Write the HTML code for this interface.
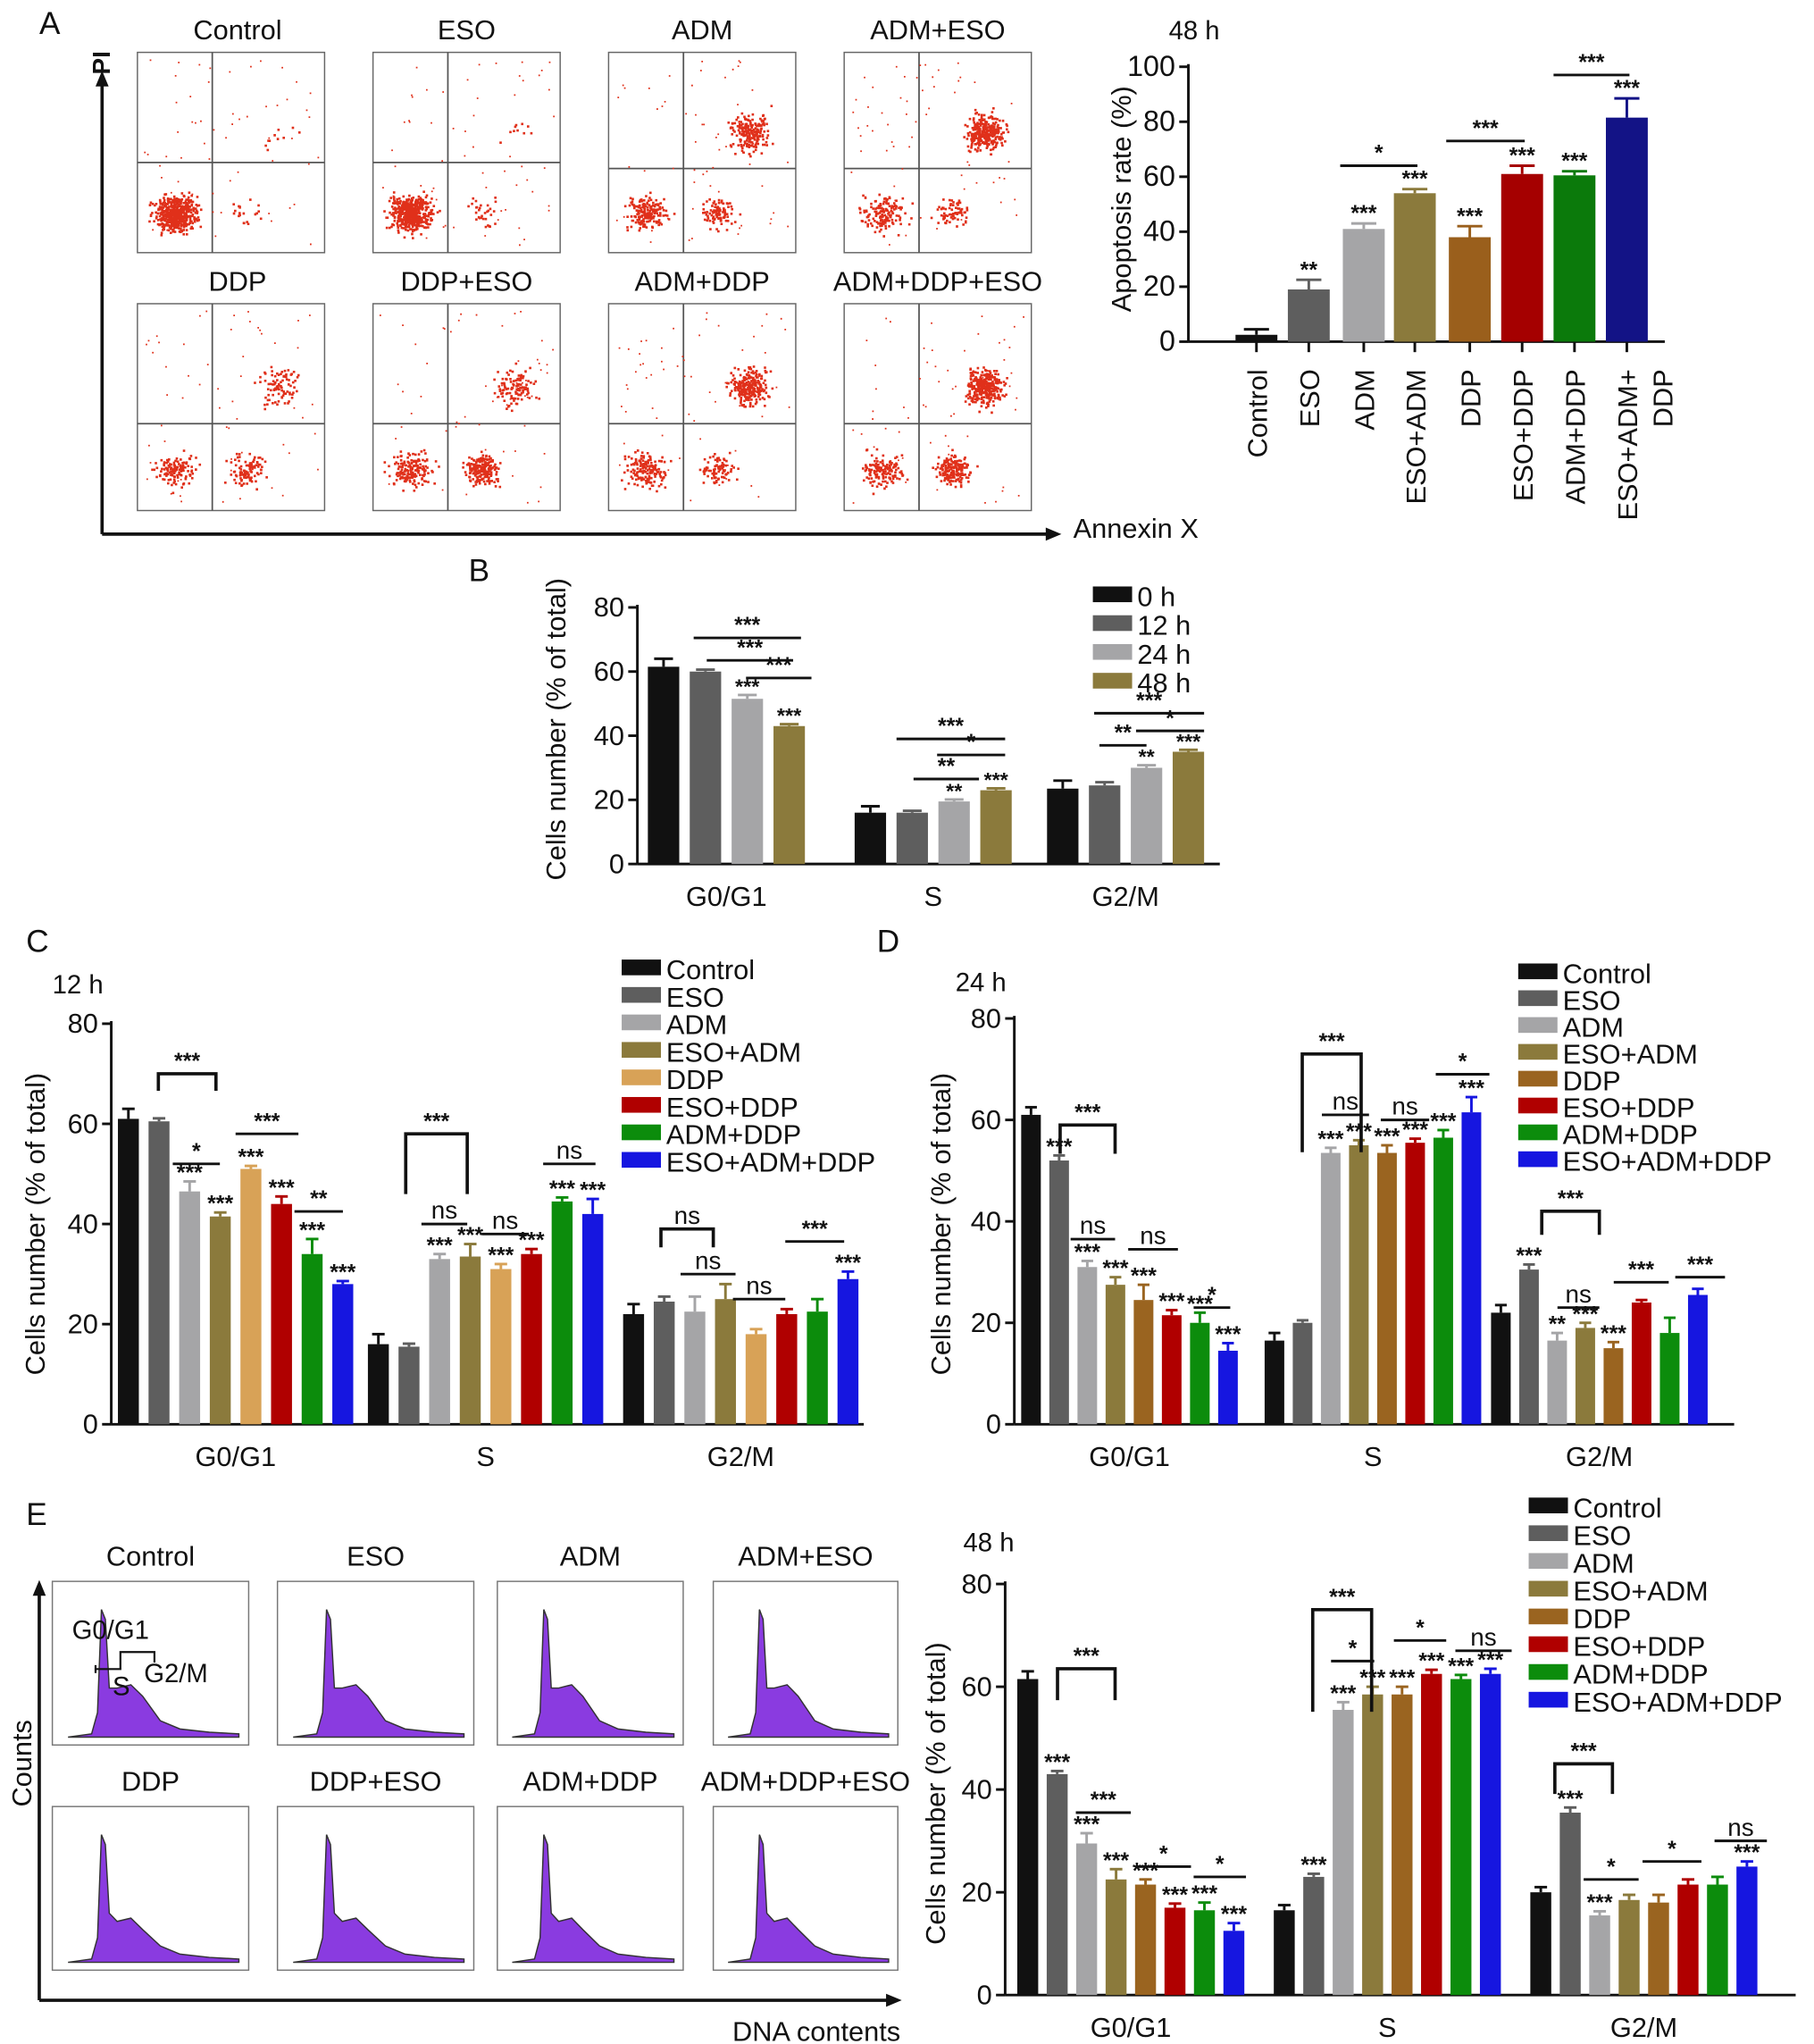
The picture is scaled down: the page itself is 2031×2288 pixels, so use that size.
<!DOCTYPE html>
<html><head><meta charset="utf-8">
<style>
html,body{margin:0;padding:0;background:#fff;}
svg{display:block;font-family:"Liberation Sans",Arial,sans-serif;}
</style></head>
<body>
<svg id="fig" width="2031" height="2288" viewBox="0 0 1386 1561.4" preserveAspectRatio="none" xmlns="http://www.w3.org/2000/svg"></svg>
<script>
// ---------- DATA ----------
const aCats = ["Control","ESO","ADM","ESO+ADM","DDP","ESO+DDP","ADM+DDP","ESO+ADM+DDP"];
const aVals = [2.5,19,41,54,38,61,60.5,81.5];
const aErr  = [2,3.5,2,1.5,4,3,1.5,7];
const aStars = ["","**","***","***","***","***","***","***"];
const aTicks = [0,20,40,60,80,100];

const phases = ["G0/G1","S","G2/M"];
const bSeriesNames = ["0 h","12 h","24 h","48 h"];
const b0h  = [61.5,16,23.5];
const b12h = [60,16,24.5];
const b24h = [51.5,19.5,30];
const b48h = [43,23,35];
const bErr0 = [2.5,2,2.5], bErr12=[0.6,0.6,1], bErr24=[1.2,0.6,0.8], bErr48=[0.6,0.6,0.6];
const bStars24 = ["***","**","**"], bStars48 = ["***","***","***"];
const cellTicks = [0,20,40,60,80];

const treatNames = ["Control","ESO","ADM","ESO+ADM","DDP","ESO+DDP","ADM+DDP","ESO+ADM+DDP"];
const cControl=[61,16,22], cESO=[60.5,15.5,24.5], cADM=[46.5,33,22.5], cESOADM=[41.5,33.5,25],
      cDDP=[51,31,18], cESODDP=[44,34,22], cADMDDP=[34,44.5,22.5], cTriple=[28,42,29];
const cErrs=[[2,2,2],[0.6,0.6,1],[2,1,3],[0.8,2.5,3],[0.6,1,1],[1.5,1,1],[3,0.8,2.5],[0.6,3,1.5]];
const cStars=[["","",""],["","",""],["***","***",""],["***","***",""],["***","***",""],["***","***",""],["***","***",""],["***","***","***"]];

const dControl=[61,16.5,22], dESO=[52,20,30.5], dADM=[31,53.5,16.5], dESOADM=[27.5,55,19],
      dDDP=[24.5,53.5,15], dESODDP=[21.5,55.5,24], dADMDDP=[20,56.5,18], dTriple=[14.5,61.5,25.5];
const dErrs=[[1.5,1.5,1.5],[1,0.5,1],[1.2,1,1.5],[1.5,1,1],[3,1.5,1.2],[1,0.8,0.5],[2,1.5,3],[1.5,3,1.2]];
const dStars=[["","",""],["***","","***"],["***","***","**"],["***","***","***"],["***","***","***"],["***","***",""],["***","***",""],["***","***",""]];

const eControl=[61.5,16.5,20], eESO=[43,23,35.5], eADM=[29.5,55.5,15.5], eESOADM=[22.5,58.5,18.5],
      eDDP=[21.5,58.5,18], eESODDP=[17,62.5,21.5], eADMDDP=[16.5,61.5,21.5], eTriple=[12.5,62.5,25];
const eErrs=[[1.5,1,1],[0.6,0.6,1],[2,1.5,0.8],[2,1.5,1],[1,1.5,1.5],[0.8,0.8,1],[1.5,0.8,1.5],[1.5,1,1]];
const eStars=[["","",""],["***","***","***"],["***","***","***"],["***","***",""],["***","***",""],["***","***",""],["***","***",""],["***","***","***"]];

// ---------- helpers ----------
const NS="http://www.w3.org/2000/svg";
const svg=document.getElementById('fig');
function el(tag,attrs,parent,text){const e=document.createElementNS(NS,tag);for(const k in attrs)e.setAttribute(k,attrs[k]);if(text!==undefined)e.textContent=text;(parent||svg).appendChild(e);return e;}
function grp(name,parent){const g=el('g',{},parent);


return g;}
function txt(parent,name,x,y,s,size,anchor,extra){const t=el('text',Object.assign({x:x,y:y,'font-size':size,'text-anchor':anchor||'start',fill:'#111'},extra||{}),parent,s);


return t;}

const colA=["#111","#5e5e5e","#a5a5a7","#8b7a3c","#9a5f1c","#a50000","#0b7a0b","#131386"];
const colC=["#111","#5e5e5e","#a5a5a7","#8b7a3c","#d8a257","#b00000","#0c8c0c","#1616e0"];
const colD=["#111","#5e5e5e","#a5a5a7","#8b7a3c","#9a6420","#b00000","#0c8c0c","#1616e0"];
const colB=["#111","#5e5e5e","#a5a5a7","#8b7a3c"];

function chart(cfg){
  const g=grp(cfg.name);
  const sy=v=>cfg.y0-(v/cfg.ymax)*(cfg.y0-cfg.yTop);
  el('line',{x1:cfg.ax,y1:cfg.yTop-2,x2:cfg.ax,y2:cfg.y0,stroke:'#111','stroke-width':2},g);
  el('line',{x1:cfg.ax,y1:cfg.y0,x2:cfg.xEnd,y2:cfg.y0,stroke:'#111','stroke-width':2},g);
  cfg.ticks.forEach(t=>{
    el('line',{x1:cfg.ax-7,y1:sy(t),x2:cfg.ax,y2:sy(t),stroke:'#111','stroke-width':2},g);
    txt(g,'y-tick-label',cfg.ax-10,sy(t)+7,String(t),cfg.tickSize||21,'end');
  });
  const nS=cfg.series.length;
  cfg.groupCenters.forEach((gc,gi)=>{
    for(let si=0;si<nS;si++){
      const cx=gc+(si-(nS-1)/2)*cfg.spacing;
      const v=cfg.series[si][gi], e=cfg.errs[si][gi];
      const col=cfg.barColors?cfg.barColors[gi]:cfg.colors[si];
      const top=sy(v);
      const r=el('rect',{x:cx-cfg.barW/2,y:top,width:cfg.barW,height:cfg.y0-top,fill:col},g);
      
      
      const et=sy(v+e);
      el('line',{x1:cx,y1:top,x2:cx,y2:et,stroke:col,'stroke-width':2},g);
      el('line',{x1:cx-cfg.barW*0.3,y1:et,x2:cx+cfg.barW*0.3,y2:et,stroke:col,'stroke-width':2},g);
      const st=cfg.stars?cfg.stars[si][gi]:"";
      if(st) txt(g,'significance-mark',cx,et-1,st,cfg.starSize||17,'middle',{'font-weight':'bold'});
    }
    if(!cfg.rotLabels) txt(g,'x-category-label',gc,cfg.y0+32,cfg.cats[gi],21,'middle');
    else el('line',{x1:gc,y1:cfg.y0,x2:gc,y2:cfg.y0+8,stroke:'#111','stroke-width':2},g);
  });
  return {g,sy};
}

function legend(name,x,y,gap,names,cols,size){
  const g=grp(name);
  names.forEach((n,i)=>{
    const r=el('rect',{x:x,y:y+i*gap-11,width:30,height:12,fill:cols[i]},g);
    
    
    txt(g,'legend-entry',x+34,y+i*gap+4,n,size||21,'start');
  });
}

function bracket(g,x1,x2,y,label,drop){
  if(drop){
    el('polyline',{points:`${x1},${y+drop} ${x1},${y} ${x2},${y} ${x2},${y+drop}`,fill:'none',stroke:'#111','stroke-width':2.5},g);
  } else el('line',{x1:x1,y1:y,x2:x2,y2:y,stroke:'#111','stroke-width':2},g);
  txt(g,'significance-label',(x1+x2)/2,y-4,label,label==='ns'?19:17,'middle',{'font-weight':label==='ns'?'normal':'bold'});
}

// ---------- Panel letters ----------
[["A",30,26],["B",358,444],["C",20,727],["D",670,727],["E",20,1165]].forEach(p=>txt(svg,'panel-label-'+p[0].toLowerCase(),p[1],p[2],p[0],24,'start'));

// ---------- Panel A scatter plots ----------
let seed=12345;function rnd(){seed=(seed*1103515245+12345)%2147483648;return seed/2147483648;}
function gauss(){return (rnd()+rnd()+rnd()+rnd()-2)/2;}
const flowTitles=["Control","ESO","ADM","ADM+ESO","DDP","DDP+ESO","ADM+DDP","ADM+DDP+ESO"];
const flowBoxX=[105,285,465,645], flowBoxY=[40,232], flowW=143, flowH=[153,158];
const flowClusters=[[500,20,10],[520,30,10],[180,90,200],[150,70,300],[120,100,90],[170,200,110],[160,90,250],[140,180,320]];
const ga=grp('flow-cytometry-plots');
flowTitles.forEach((t,i)=>{
  const bx=flowBoxX[i%4], by=flowBoxY[Math.floor(i/4)], h=flowH[Math.floor(i/4)], w=flowW;
  const b=el('rect',{x:bx,y:by,width:w,height:h,fill:'#fff',stroke:'#666','stroke-width':1},ga);
  
  
  const qx=bx+w*0.4, qy=by+h*(i<4?(i>=2?0.58:0.55):0.58);
  el('line',{x1:qx,y1:by,x2:qx,y2:by+h,stroke:'#555','stroke-width':1.2},ga);
  el('line',{x1:bx,y1:qy,x2:bx+w,y2:qy,stroke:'#555','stroke-width':1.2},ga);
  const cl=flowClusters[i];
  const centers=[[bx+w*0.2,by+h*0.8,12,10],[bx+w*0.58,by+h*0.8,10,9],[bx+w*0.75,by+h*0.4,11,11]];
  let d="";
  centers.forEach((c,k)=>{for(let n=0;n<cl[k];n++){const px=c[0]+gauss()*c[2]*2.2,py=c[1]+gauss()*c[3]*2.2;
    if(px>bx+2&&px<bx+w-2&&py>by+2&&py<by+h-2) d+=`M${px.toFixed(1)} ${py.toFixed(1)}h1.8v1.8h-1.8z`;}});
  for(let n=0;n<60;n++){const px=bx+5+rnd()*(w-10),py=by+5+rnd()*(h-10);d+=`M${px.toFixed(1)} ${py.toFixed(1)}h1.2v1.2h-1.2z`;}
  el('path',{d:d,fill:'#e0301a'},ga);
  txt(ga,'scatter-plot-title',bx+w/2-(i%4===0?-5:0),by-10,t,21,'middle');
});
el('line',{x1:78,y1:408,x2:78,y2:62,stroke:'#111','stroke-width':2.5},ga);
el('polygon',{points:"78,54 73,66 83,66",fill:'#111'},ga);
el('line',{x1:78,y1:408,x2:802,y2:408,stroke:'#111','stroke-width':2.5},ga);
el('polygon',{points:"811,408 799,403 799,413",fill:'#111'},ga);
txt(ga,'y-axis-title-pi',84,48,'PI',19,'middle',{transform:'rotate(-90 84 48)','font-weight':'bold'});
txt(ga,'x-axis-title-annexin',820,411,'Annexin X',21,'start');

// ---------- Panel A bar chart ----------
(function(){
  const centers=[960,1000,1042,1081,1123,1163,1203,1243];
  const c=chart({name:'apoptosis-chart',ax:908,y0:261,yTop:51,ymax:100,ticks:aTicks,xEnd:1272,
    groupCenters:centers,spacing:0,barW:32,series:[aVals],errs:[aErr],colors:['#111'],barColors:colA,snames:['apoptosis'],cats:aCats,rotLabels:true,tickSize:22});
  centers.forEach((x,i)=>{if(aStars[i]) txt(c.g,'significance-mark',x,c.sy(aVals[i]+aErr[i])-2,aStars[i],17,'middle',{'font-weight':'bold'});});
  bracket(c.g,1024,1083,c.sy(64),'*');
  bracket(c.g,1105,1165,c.sy(73),'***');
  bracket(c.g,1187,1245,c.sy(97),'***');
  const labs=["Control","ESO","ADM","ESO+ADM","DDP","ESO+DDP","ADM+DDP","ESO+ADM+"];
  labs.forEach((l,i)=>{const x=centers[i]+8,y=282;txt(c.g,'x-category-label',x,y,l,21,'end',{transform:`rotate(-90 ${x} ${y})`});});
  txt(c.g,'x-category-label',1278,282,'DDP',21,'end',{transform:'rotate(-90 1278 282)'});
  txt(c.g,'chart-title',893,30,'48 h',20,'start');
  txt(c.g,'y-axis-title',864,152,'Apoptosis rate (%)',21,'middle',{transform:'rotate(-90 864 152)'});
})();

// ---------- Panel B ----------
(function(){
  const c=chart({name:'cell-cycle-time-chart',ax:487,y0:660,yTop:464,ymax:80,ticks:cellTicks,xEnd:932,
    groupCenters:[555,713,860],spacing:32,barW:24,series:[b0h,b12h,b24h,b48h],errs:[bErr0,bErr12,bErr24,bErr48],
    colors:colB,snames:bSeriesNames,cats:phases,stars:[["","",""],["","",""],bStars24,bStars48],starSize:16});
  bracket(c.g,540,606,c.sy(63.5),'***');bracket(c.g,530,612,c.sy(70.5),'***');bracket(c.g,570,620,c.sy(58),'***');
  bracket(c.g,698,748,c.sy(26.5),'**');bracket(c.g,685,768,c.sy(39),'***');bracket(c.g,716,768,c.sy(34),'*');
  bracket(c.g,840,876,c.sy(37),'**');bracket(c.g,836,920,c.sy(47),'***');bracket(c.g,868,920,c.sy(41.5),'*');
  txt(c.g,'y-axis-title',432,557,'Cells number (% of total)',21,'middle',{transform:'rotate(-90 432 557)'});
  legend('legend-time',835,459,22,bSeriesNames,colB,21);
})();

// ---------- Panel C ----------
const cSeries=[cControl,cESO,cADM,cESOADM,cDDP,cESODDP,cADMDDP,cTriple];
(function(){
  const c=chart({name:'cell-cycle-12h-chart',ax:85,y0:1088,yTop:782,ymax:80,ticks:cellTicks,xEnd:660,
    groupCenters:[180,371,566],spacing:23.4,barW:16,series:cSeries,errs:cErrs,colors:colC,snames:treatNames,cats:phases,stars:cStars});
  const s=c.sy;
  bracket(c.g,121,165,s(70),'***',13);bracket(c.g,132,168,s(52),'*');bracket(c.g,180,228,s(58),'***');bracket(c.g,225,262,s(42.5),'**');
  bracket(c.g,310,357,s(58),'***',46);bracket(c.g,322,357,s(40),'ns');bracket(c.g,368,404,s(38),'ns');bracket(c.g,415,455,s(52),'ns');
  bracket(c.g,505,545,s(39),'ns',14);bracket(c.g,520,562,s(30),'ns');bracket(c.g,560,600,s(25),'ns');bracket(c.g,600,645,s(36.5),'***');
  txt(c.g,'chart-title',40,759,'12 h',20,'start');
  txt(c.g,'y-axis-title',34,935,'Cells number (% of total)',21,'middle',{transform:'rotate(-90 34 935)'});
  legend('legend-treatment-c',475,744,21,treatNames,colC,21);
})();

// ---------- Panel D ----------
const dSeries=[dControl,dESO,dADM,dESOADM,dDDP,dESODDP,dADMDDP,dTriple];
(function(){
  const c=chart({name:'cell-cycle-24h-chart',ax:775,y0:1088,yTop:778,ymax:80,ticks:cellTicks,xEnd:1325,
    groupCenters:[863,1049,1222],spacing:21.5,barW:15,series:dSeries,errs:dErrs,colors:colD,snames:treatNames,cats:phases,stars:dStars});
  const s=c.sy;
  bracket(c.g,810,852,s(59),'***',22);bracket(c.g,818,852,s(36.5),'ns');bracket(c.g,862,900,s(34.5),'ns');bracket(c.g,912,940,s(23),'*');
  bracket(c.g,995,1040,s(73),'***',75);bracket(c.g,1010,1046,s(61),'ns');bracket(c.g,1055,1092,s(60),'ns');bracket(c.g,1097,1138,s(69),'*');
  bracket(c.g,1178,1222,s(42),'***',18);bracket(c.g,1190,1222,s(23),'ns');bracket(c.g,1233,1275,s(28),'***');bracket(c.g,1280,1318,s(29),'***');
  txt(c.g,'chart-title',730,757,'24 h',20,'start');
  txt(c.g,'y-axis-title',726,935,'Cells number (% of total)',21,'middle',{transform:'rotate(-90 726 935)'});
  legend('legend-treatment-d',1160,747,20.5,treatNames,colD,21);
})();

// ---------- Panel E histograms ----------
(function(){
  const g=grp('dna-histograms');
  const bxs=[40,212,380,545], bys=[1208,1380], w=[150,150,142,141], h=125;
  const titles=["Control","ESO","ADM","ADM+ESO","DDP","DDP+ESO","ADM+DDP","ADM+DDP+ESO"];
  titles.forEach((t,i)=>{
    const bx=bxs[i%4], by=bys[Math.floor(i/4)], ww=w[i%4];
    const b=el('rect',{x:bx,y:by,width:ww,height:h,fill:'#fff',stroke:'#777','stroke-width':1},g);
    
    
    const base=by+h-6, X=f=>bx+f*ww, Y=f=>base-f*h;
    const sh=i>=4?0.25:0.3;
    const p=`M${X(0.08)},${base} L${X(0.2)},${Y(0.02)} L${X(0.23)},${Y(0.15)} L${X(0.25)},${Y(0.78)} L${X(0.27)},${Y(0.72)} L${X(0.29)},${Y(0.3)} L${X(0.33)},${Y(sh)} L${X(0.4)},${Y(sh+0.02)} L${X(0.46)},${Y(sh-0.05)} L${X(0.55)},${Y(0.1)} L${X(0.65)},${Y(0.05)} L${X(0.8)},${Y(0.03)} L${X(0.95)},${Y(0.02)} L${X(0.95)},${base} Z`;
    el('path',{d:p,fill:'#8a3be0',stroke:'#333','stroke-width':1},g);
    txt(g,'histogram-title',bx+ww/2,by-12,t,21,'middle');
  });
  txt(g,'gate-label',55,1252,'G0/G1',20,'start');
  txt(g,'gate-label',86,1295,'S',20,'start');
  txt(g,'gate-label',110,1285,'G2/M',20,'start');
  el('polyline',{points:"73,1278 73,1272 73,1275 92,1275 92,1268 92,1262 118,1262 118,1270",fill:'none',stroke:'#111','stroke-width':1.5},g);
  el('line',{x1:30,y1:1528,x2:30,y2:1216,stroke:'#111','stroke-width':2.5},g);
  el('polygon',{points:"30,1207 25,1219 35,1219",fill:'#111'},g);
  el('line',{x1:30,y1:1528,x2:680,y2:1528,stroke:'#111','stroke-width':2.5},g);
  el('polygon',{points:"689,1528 677,1523 677,1533",fill:'#111'},g);
  txt(g,'y-axis-title-counts',24,1347,'Counts',21,'middle',{transform:'rotate(-90 24 1347)'});
  txt(g,'x-axis-title-dna',688,1559,'DNA contents',21,'end');
})();

// ---------- Panel E bar chart ----------
const eSeries=[eControl,eESO,eADM,eESOADM,eDDP,eESODDP,eADMDDP,eTriple];
(function(){
  const c=chart({name:'cell-cycle-48h-chart',ax:768,y0:1524,yTop:1210,ymax:80,ticks:cellTicks,xEnd:1372,
    groupCenters:[864,1060,1256],spacing:22.5,barW:16,series:eSeries,errs:eErrs,colors:colD,snames:treatNames,cats:phases,stars:eStars});
  const s=c.sy;
  bracket(c.g,808,852,s(63.5),'***',24);bracket(c.g,822,864,s(35.5),'***');bracket(c.g,868,910,s(25),'*');bracket(c.g,912,952,s(23),'*');
  bracket(c.g,1003,1048,s(75),'***',78);bracket(c.g,1017,1050,s(65),'*');bracket(c.g,1065,1105,s(69),'*');bracket(c.g,1112,1155,s(67),'ns');
  bracket(c.g,1188,1232,s(45),'***',23);bracket(c.g,1210,1252,s(22.5),'*');bracket(c.g,1255,1300,s(26),'*');bracket(c.g,1310,1350,s(30),'ns');
  txt(c.g,'chart-title',736,1185,'48 h',20,'start');
  txt(c.g,'y-axis-title',722,1370,'Cells number (% of total)',21,'middle',{transform:'rotate(-90 722 1370)'});
  legend('legend-treatment-e',1168,1155,21.2,treatNames,colD,21);
})();
</script>
</body></html>
